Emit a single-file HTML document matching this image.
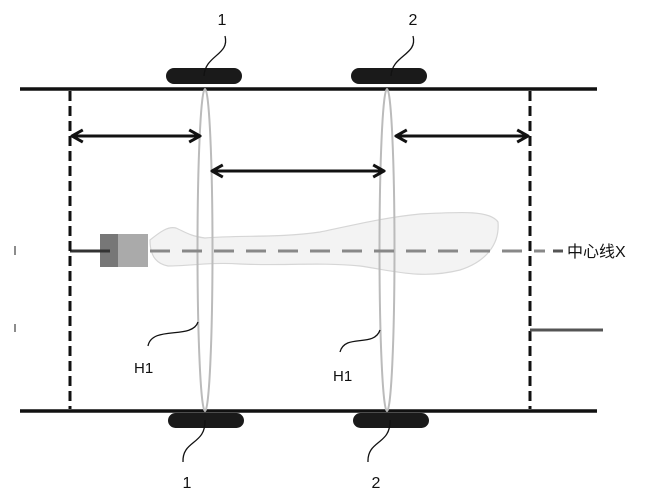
<!DOCTYPE html>
<html><head><meta charset="utf-8"><style>
html,body{margin:0;padding:0;background:#fff;}
svg{display:block;}
text{font-family:"Liberation Sans","Noto Sans CJK SC",sans-serif;fill:#111;}
</style></head><body>
<svg width="653" height="500" viewBox="0 0 653 500" xmlns="http://www.w3.org/2000/svg">
<defs>
<marker id="ah" viewBox="0 0 10 10" refX="9" refY="5" markerWidth="4.5" markerHeight="5" orient="auto-start-reverse">
<path d="M1,0.5 L9,5 L1,9.5" fill="none" stroke="#111" stroke-width="2.2"/>
</marker>
</defs>
<path d="M150,240 C160,232 168,226 176,228 C185,232 190,236 205,238 C240,235 280,238 320,232 C350,226 380,218 420,214 C460,212 490,210 498,222 C500,245 485,262 460,270 C420,280 390,270 360,266 C320,262 280,266 240,264 C210,262 190,266 168,266 C158,264 150,258 150,240 Z" fill="#f3f3f3" stroke="#d6d6d6" stroke-width="1.2"/>
<rect x="100" y="234" width="18" height="33" fill="#777"/>
<rect x="118" y="234" width="30" height="33" fill="#aaa"/>
<line x1="70" y1="251" x2="110" y2="251" stroke="#333" stroke-width="3"/>
<line x1="20" y1="89" x2="597" y2="89" stroke="#111" stroke-width="3.5"/>
<line x1="20" y1="411" x2="597" y2="411" stroke="#111" stroke-width="3.5"/>
<line x1="70" y1="91" x2="70" y2="409" stroke="#111" stroke-width="3" stroke-dasharray="10,5"/>
<line x1="530" y1="91" x2="530" y2="409" stroke="#111" stroke-width="3" stroke-dasharray="10,5"/>
<line x1="530" y1="330" x2="603" y2="330" stroke="#555" stroke-width="3"/>
<ellipse cx="205" cy="250" rx="7.5" ry="161" fill="none" stroke="#bbb" stroke-width="2"/>
<ellipse cx="387" cy="250" rx="7.5" ry="161" fill="none" stroke="#bbb" stroke-width="2"/>
<line x1="150" y1="251" x2="545" y2="251" stroke="#888" stroke-width="3" stroke-dasharray="20,12"/>
<line x1="553" y1="251" x2="563" y2="251" stroke="#555" stroke-width="3"/>
<text x="567" y="257" font-size="16">中心线X</text>
<line x1="15" y1="246" x2="15" y2="255" stroke="#666" stroke-width="1.5"/>
<line x1="15" y1="324" x2="15" y2="332" stroke="#666" stroke-width="1.5"/>
<line x1="72" y1="136" x2="200" y2="136" stroke="#111" stroke-width="3" marker-start="url(#ah)" marker-end="url(#ah)"/>
<line x1="212" y1="171" x2="384" y2="171" stroke="#111" stroke-width="3" marker-start="url(#ah)" marker-end="url(#ah)"/>
<line x1="396" y1="136" x2="528" y2="136" stroke="#111" stroke-width="3" marker-start="url(#ah)" marker-end="url(#ah)"/>
<rect x="166" y="68" width="76" height="16" rx="8" fill="#1a1a1a"/>
<rect x="351" y="68" width="76" height="16" rx="8" fill="#1a1a1a"/>
<rect x="168" y="413" width="76" height="15" rx="7.5" fill="#1a1a1a"/>
<rect x="353" y="413" width="76" height="15" rx="7.5" fill="#1a1a1a"/>
<path d="M225,36 C230,55 205,55 204,76" fill="none" stroke="#111" stroke-width="1.3"/>
<path d="M413,36 C418,55 392,55 391,76" fill="none" stroke="#111" stroke-width="1.3"/>
<path d="M205,420 C206,445 182,440 183,462" fill="none" stroke="#111" stroke-width="1.3"/>
<path d="M390,420 C391,445 367,440 368,462" fill="none" stroke="#111" stroke-width="1.3"/>
<path d="M198,322 C192,340 152,325 148,346" fill="none" stroke="#111" stroke-width="1.3"/>
<path d="M380,330 C374,348 345,333 340,352" fill="none" stroke="#111" stroke-width="1.3"/>
<text x="222" y="25" font-size="16" text-anchor="middle">1</text>
<text x="413" y="25" font-size="16" text-anchor="middle">2</text>
<text x="187" y="488" font-size="16" text-anchor="middle">1</text>
<text x="376" y="488" font-size="16" text-anchor="middle">2</text>
<text x="134" y="373" font-size="15">H1</text>
<text x="333" y="381" font-size="15">H1</text>
</svg>
</body></html>
